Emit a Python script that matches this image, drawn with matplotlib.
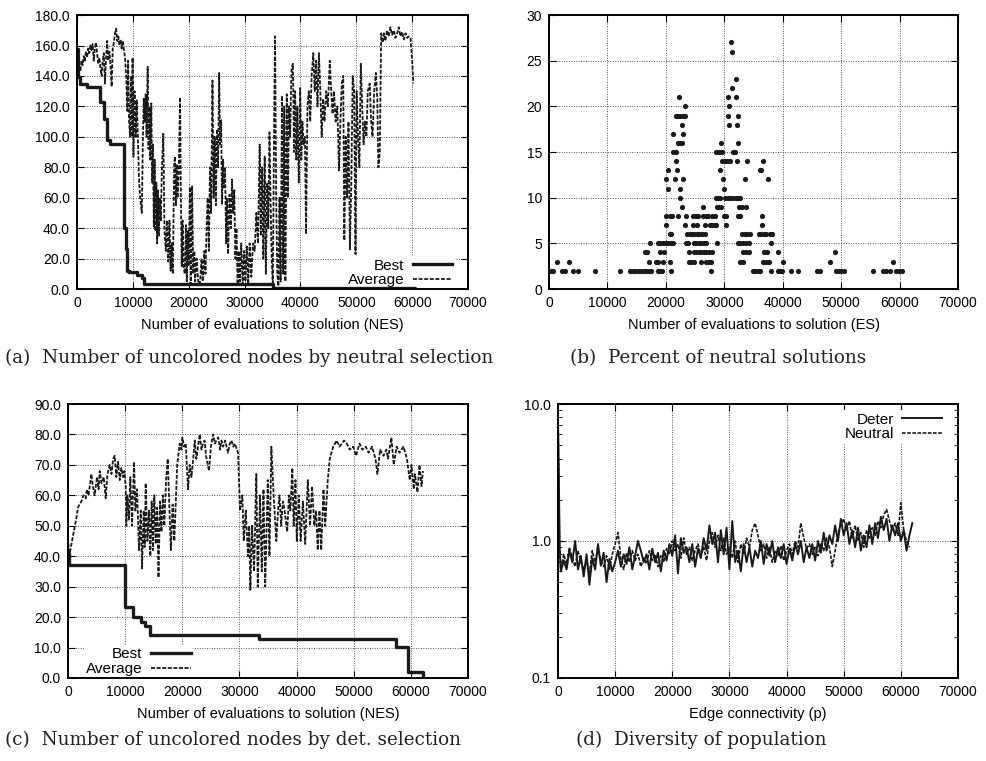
#!/usr/bin/env python3
import matplotlib
matplotlib.use("Agg")
import matplotlib.pyplot as plt
from matplotlib.ticker import FixedLocator, FormatStrFormatter, LogLocator, NullFormatter


# (a) uncolored nodes, neutral selection
best_a_x=[0,120,500,1700,4170,4770,5360,5960,8500,8700,8940,9240,10730,11600,12040,35170,60500]
best_a_y=[158,139,135,133,123,112,98,95,40,26,12,11,9,7,3,1,0]

avg_a_x=[0,150,300,450,600,800,1000,1200,1400,1600,1800,2000,2200,2400,2600,2800,3000,3200,3400,3600,
         3800,4000,4200,4400,4600,4800,5000,5200,5400,5600,5800,6000,6200,6400,6600,6800,7000,7200,7400,7600,
         7800,8000,8200,8400,8600,8800,9000,9150,9300,9500,9650,9800,9950,10100,10300,10500,10700,10900,11100,11300,
         11600,11800,11950,12100,12300,12450,12650,12800,12950,13100,13300,13450,13600,13750,13900,14050,14200,14350,14500,14650,
         14800,15000,15200,15450,15650,15900,16100,16350,16550,16750,16950,17150,17400,17550,17700,17850,18000,18200,18450,18600,
         18750,18900,19100,19300,19500,19650,19850,20000,20200,20400,20600,20800,21000,21150,21400,21700,22000,22300,22500,22800,
         23000,23200,23400,23600,23800,24000,24250,24450,24650,24850,25050,25250,25450,25600,25800,25950,26150,26300,26500,26700,
         26850,27050,27300,27550,27750,27950,28150,28350,28550,28750,28950,29150,29400,29650,29900,30150,30400,30650,30900,31200,
         31500,31800,32100,32400,32700,32900,33150,33350,33600,33800,34050,34250,34450,34650,34850,35050,35300,35450,35650,35850,
         36050,36250,36450,36700,36900,37100,37300,37550,37750,37950,38150,38400,38650,38850,39050,39250,39450,39700,39950,40150,
         40350,40550,40800,41000,41250,41500,41750,42000,42300,42550,42800,43050,43300,43550,43800,44050,44300,44600,44900,45250,
         45500,45750,46000,46300,46600,46900,47150,47400,47650,47850,48100,48350,48600,48850,49100,49350,49600,49850,50050,50300,
         50550,50800,51050,51300,51550,51800,52050,52400,52650,52900,53200,53500,53750,53950,54200,54450,54700,54950,55200,55500,
         55800,56100,56400,56700,57000,57300,57600,57900,58200,58500,58800,59100,59400,59700,60000,60200]
avg_a_y=[158,148,141,146,143,150,147,153,150,156,152,158,155,160,157,161,150,158,162,155,
         148,152,145,140,150,155,135,152,163,150,156,147,133,158,162,168,171,163,166,160,
         164,158,163,157,152,140,117,150,112,100,140,100,152,87,130,100,124,98,72,60,
         50,100,125,110,128,100,146,92,120,85,122,70,95,41,85,38,70,30,65,35,
         60,45,80,102,40,25,45,18,45,12,30,10,82,87,55,82,60,75,126,60,
         15,45,14,10,42,5,38,15,67,3,68,10,25,5,20,5,3,20,5,25,
         10,41,60,25,80,50,137,60,100,55,105,80,142,95,111,56,85,67,80,30,
         60,23,62,40,72,50,65,20,40,3,25,5,30,3,25,5,28,3,30,8,
         30,25,50,30,95,35,80,20,87,10,70,40,103,58,20,2,115,166,60,10,
         2,60,5,127,10,120,5,128,60,120,100,145,148,90,130,85,120,70,132,85,
         110,95,100,36,120,130,110,140,155,130,150,120,155,130,100,125,110,130,120,150,
         130,115,130,110,120,78,110,135,140,32,100,60,110,26,70,140,130,23,130,100,
         80,148,120,95,110,100,130,135,110,100,130,142,125,80,90,168,162,168,163,170,
         166,172,167,170,165,168,172,166,169,164,168,165,166,165,150,135]

# (b) percent of neutral solutions, one list of evaluation counts per percent level
neut_2=[285,684,2280,2680,4100,4960,7800,12090,13900,14350,14800,15250,15800,16200,16650,17100,17400,18650,19060,19400,
        20940,27780,34900,35300,35700,36060,37940,39200,39550,39940,41360,42620,45930,46320,49180,49600,50050,50490,55450,57160,
        57620,58300,59450,59900,60360]
neut_3=[1430,3370,17110,18260,18650,19510,20650,23960,24360,24760,25960,26930,27350,27780,32750,33200,36630,37100,37650,40050,
        48040,58870]
neut_4=[16370,16770,19060,19700,23960,24760,25200,25650,26050,26470,26900,27350,27900,33200,33750,34230,36800,37370,39190,49010]
neut_5=[17220,18650,19060,19510,19970,20360,20820,21220,23390,23840,24760,25200,25650,26050,26470,26900,28810,32350,32750,33200,
        33660,34230,38050]
neut_6=[20650,20940,23670,24080,24480,24890,25300,25750,26150,26640,33090,33490,33890,34340,35940,36350,36750,37200,37780,38160]
neut_7=[20080,23330,24650,25330,26640,27500,27950,28350,28640,30230,36490]
neut_8=[20080,20650,21100,22080,23500,24650,25100,25500,26350,26810,27250,27950,28470,29950,30350,32350,32750,36490]
neut_9=[22760,26350,28750,29100,29450,32520,33030,33660]
neut_10=[22360,28520,28900,29280,30060,30630,31030,31490,31940,32350,32750]
neut_11=[20360,22360,29950]
neut_12=[19970,21560,22930,29780,33490,37480]
neut_13=[20360,21900,29220,36080,36320]
neut_14=[21670,29620,30060,30520,30980,32230,33940,36620]
neut_15=[21220,21670,28650,29050,29670,31490,31780]
neut_16=[22080,22450,22810,29380,32350]
neut_17=[21220,22930]
neut_18=[22810,30850,32230]
neut_19=[21670,22080,22450,22930,23330,30580,32350]
neut_20=[23220,30840]
neut_21=[22250,30650,31960]
neut_22=[31320]
neut_23=[32060]
neut_26=[31380]
neut_27=[31200]

neut_levels=[2,3,4,5,6,7,8,9,10,11,12,13,14,15,16,17,18,19,20,21,22,23,26,27]
neut_groups=[neut_2,neut_3,neut_4,neut_5,neut_6,neut_7,neut_8,neut_9,neut_10,neut_11,neut_12,neut_13,
             neut_14,neut_15,neut_16,neut_17,neut_18,neut_19,neut_20,neut_21,neut_22,neut_23,neut_26,neut_27]

# (c) uncolored nodes, deterministic selection
best_c_x=[0,200,9950,11400,12800,13400,14300,33400,57400,59500,62200]
best_c_y=[41,37,23.3,20,18.3,17,14.2,12.8,10.3,2,0]

avg_c_x=[0,200,500,900,1200,1500,1750,2000,2330,2700,3090,3300,3600,4080,4350,4650,5075,5350,5550,5850,
         6250,6590,6900,7290,7600,7900,8170,8450,8750,9050,9330,9620,9850,10090,10200,10380,10650,10900,11200,11550,
         11780,12070,12420,12720,12950,13240,13420,13590,13880,14170,14400,14640,14870,15100,15350,15600,15830,16100,16350,16600,
         16850,17150,17450,17750,18000,18300,18600,18800,19100,19540,19850,20000,20300,20600,21000,21300,21600,21900,22170,22450,
         22750,23040,23350,23600,23900,24150,24670,25000,25370,25700,25950,26300,26600,26850,27150,27500,28000,28300,28600,28900,
         29200,29750,30100,30500,30750,31100,31500,31700,31900,32200,32550,32950,33200,33600,33900,34200,34500,34950,35250,35580,
         35980,36450,36750,37000,37300,37600,37900,38350,38650,38900,39250,39480,39800,40030,40400,40700,41100,41500,41960,42350,
         42700,43100,43400,43700,44000,44300,44700,45000,45450,45800,46400,47000,47500,48300,48800,49300,49900,50400,51000,51500,
         52100,52600,53200,53800,54140,54600,55200,55700,56000,56580,57000,57500,58000,58700,59300,59800,60100,60500,60700,61150,
         61500,61850,62100]
avg_c_y=[46,40,43,47,50,53,56,57,58,60,59,62,60,67,63,60,66,62,68,64,
         66,59,67,70,67,72,73,66,71,65,69,66,68,63,50,60,52,66,50,71,
         55,62,42,55,36,55,43,64,45,55,40,58,42,60,44,56,33,58,48,60,
         50,65,72,55,42,57,45,55,70,77,75,79,76,77,62,70,66,72,78,72,
         76,80,75,77,78,73,68,76,80,77,78,79,75,78,76,78,74,77,78,76,
         77,74,55,60,45,55,40,50,29,50,35,67,30,60,35,62,30,65,40,76,
         60,45,55,60,50,58,55,48,60,55,69,50,65,45,60,45,58,44,65,50,
         63,50,55,42,55,42,62,50,65,72,76,78,76,78,77,75,76,73,77,75,
         76,74,76,72,67,75,73,75,72,79,70,76,74,76,72,65,70,62,67,61,
         70,63,68]

# (d) diversity of population
div_x=[0,150,300,500,1000,1500,2000,2500,3000,3500,4000,4500,5000,5500,6000,6500,7000,7500,8000,8500,
       9000,9500,10000,10500,11000,11500,12000,12500,13000,13500,14000,14500,15000,15500,16000,16500,17000,17500,18000,18500,
       19000,19500,20000,20500,21000,21500,22000,22500,23000,23500,24000,24500,25000,25500,26000,26500,27000,27500,28000,28500,
       29000,29500,30000,30500,31000,31500,32000,32500,33000,33500,34000,34500,35000,35500,36000,36500,37000,37500,38000,38500,
       39000,39500,40000,40500,41000,41500,42000,42500,43000,43500,44000,44500,45000,45500,46000,46500,47000,47500,48000,48500,
       49000,49500,50000,50500,51000,51500,52000,52500,53000,53500,54000,54500,55000,55500,56000,56500,57000,57500,58000,58500,
       59000,59500,60000,60500,61000,61500,62000]
deter_y=[8.0,3.0,0.9,0.6,0.72,0.62,0.85,0.7,1.0,0.62,0.78,0.55,0.8,0.48,0.75,0.62,0.95,0.66,0.82,0.5,
         0.74,0.6,0.7,0.85,0.65,0.8,0.68,0.9,0.62,0.78,1.0,0.85,0.7,0.8,0.62,0.88,0.7,0.82,0.6,0.85,
         0.72,0.95,0.78,1.1,0.58,1.05,0.82,0.9,0.7,0.95,0.65,0.88,0.75,1.05,0.85,1.3,0.95,1.15,0.7,1.2,
         0.8,1.25,0.62,1.4,0.7,0.85,0.6,0.95,0.7,0.9,0.65,0.85,0.75,1.0,0.68,0.95,0.78,1.0,0.7,0.9,
         0.75,0.95,0.68,0.88,0.72,0.95,0.8,1.0,0.7,0.9,0.75,0.95,0.72,1.0,0.82,1.15,0.85,1.1,0.95,1.3,
         1.0,1.45,1.1,1.35,0.95,1.2,0.9,1.25,0.85,1.1,0.9,1.3,0.95,1.35,1.05,1.5,1.2,1.45,1.0,1.3,
         1.1,1.35,1.0,1.2,0.85,1.1,1.35]
neutral_y=[7.5,2.5,0.8,0.62,0.8,0.68,0.9,0.75,0.65,0.85,0.7,0.62,0.72,0.58,0.85,0.7,0.88,0.72,0.65,0.78,
           0.62,0.8,0.95,1.15,0.75,0.62,0.82,0.7,0.85,0.72,0.8,0.65,0.75,0.68,0.85,0.72,0.8,0.65,0.78,0.7,
           0.88,0.8,1.0,0.85,0.95,0.75,1.05,0.8,0.9,0.72,0.85,0.95,0.78,0.9,0.72,1.0,1.15,0.9,1.1,0.85,
           1.05,0.8,0.9,0.75,1.0,0.7,0.95,0.8,1.05,0.9,1.2,1.35,1.1,0.85,0.95,0.75,0.9,0.7,0.85,0.78,
           0.92,0.72,0.85,0.95,0.8,1.0,0.9,1.35,1.05,0.88,0.95,0.8,0.9,0.78,0.95,0.85,1.05,0.9,0.65,0.85,
           1.15,1.3,1.45,1.2,1.4,1.05,1.3,1.0,1.15,0.9,1.2,1.05,1.25,1.1,1.4,1.25,1.55,1.7,1.4,1.2,
           1.35,1.1,1.9,1.2,1.0,0.9]

x_ticks=[0,10000,20000,30000,40000,50000,60000,70000]

SANS="Liberation Sans"
SERIF="DejaVu Serif"
INK="#1a1a1a"
GRID=dict(color="#555555",linestyle=(0,(1,1.5)),linewidth=0.7)
DASH=(0,(2.2,0.9))


def style_axes(ax,xlabel):
    ax.set_xlim(0,70000)
    ax.xaxis.set_major_locator(FixedLocator(x_ticks))
    ax.tick_params(which="both",direction="in",top=True,right=True,labelsize=10,pad=5)
    ax.tick_params(which="major",length=5,width=0.8)
    ax.tick_params(which="minor",length=3,width=0.6)
    for lab in ax.get_xticklabels()+ax.get_yticklabels():
        lab.set_fontfamily(SANS)
    for sp in ax.spines.values():
        sp.set_linewidth(1.4)
        sp.set_zorder(3)
    ax.grid(True,which="major",**GRID)
    ax.set_axisbelow(True)
    ax.set_xlabel(xlabel,fontsize=10.5,family=SANS,labelpad=6)


def add_legend(ax,loc,anchor):
    leg=ax.legend(
        loc=loc,
        bbox_to_anchor=anchor,
        markerfirst=False,
        frameon=True,
        framealpha=1,
        edgecolor="none",
        fancybox=False,
        handlelength=2.6,
        handletextpad=0.55,
        labelspacing=0.05,
        borderpad=0.15,
        prop={"family":SANS,"size":11},
    )
    leg.get_frame().set_linewidth(0)
    # white key box hides the grid but stays under the curves
    leg.set_zorder(1.8)
    return leg


def main():
    fig=plt.figure(figsize=(9.86,7.61),dpi=100,facecolor="white")

    ax_a=fig.add_axes([0.0781,0.6202,0.3966,0.3600])
    ax_b=fig.add_axes([0.5568,0.6202,0.4148,0.3600])
    ax_c=fig.add_axes([0.0690,0.1091,0.4057,0.3600])
    ax_d=fig.add_axes([0.5659,0.1091,0.4057,0.3600])

    # (a)
    ax_a.plot(best_a_x,best_a_y,drawstyle="steps-post",color=INK,linewidth=2.4,label="Best")
    ax_a.plot(avg_a_x,avg_a_y,color=INK,linewidth=1.3,linestyle=DASH,label="Average")
    ax_a.set_ylim(0,180)
    ax_a.yaxis.set_major_locator(FixedLocator(range(0,181,20)))
    ax_a.yaxis.set_major_formatter(FormatStrFormatter("%.1f"))
    style_axes(ax_a,"Number of evaluations to solution (NES)")
    add_legend(ax_a,"lower right",(0.985,-0.03))

    # (b)
    bx=[]
    by=[]
    for level,xs in zip(neut_levels,neut_groups):
        bx.extend(xs)
        by.extend([level]*len(xs))
    ax_b.scatter(bx,by,s=14,color=INK,linewidths=0,zorder=3)
    ax_b.set_ylim(0,30)
    ax_b.yaxis.set_major_locator(FixedLocator(range(0,31,5)))
    style_axes(ax_b,"Number of evaluations to solution (ES)")

    # (c)
    ax_c.plot(best_c_x,best_c_y,drawstyle="steps-post",color=INK,linewidth=2.4,label="Best")
    ax_c.plot(avg_c_x,avg_c_y,color=INK,linewidth=1.3,linestyle=DASH,label="Average")
    ax_c.set_ylim(0,90)
    ax_c.yaxis.set_major_locator(FixedLocator(range(0,91,10)))
    ax_c.yaxis.set_major_formatter(FormatStrFormatter("%.1f"))
    style_axes(ax_c,"Number of evaluations to solution (NES)")
    add_legend(ax_c,"lower left",(0.02,-0.03))

    # (d)
    ax_d.plot(div_x,deter_y,color=INK,linewidth=1.4,label="Deter")
    ax_d.plot(div_x[:len(neutral_y)],neutral_y,color=INK,linewidth=1.2,linestyle=DASH,label="Neutral")
    ax_d.set_yscale("log")
    ax_d.set_ylim(0.1,10)
    ax_d.yaxis.set_major_locator(FixedLocator([0.1,1.0,10.0]))
    ax_d.yaxis.set_major_formatter(FormatStrFormatter("%.1f"))
    ax_d.yaxis.set_minor_locator(LogLocator(base=10,subs=range(2,10)))
    ax_d.yaxis.set_minor_formatter(NullFormatter())
    style_axes(ax_d,"Edge connectivity (p)")
    add_legend(ax_d,"upper right",(0.985,1.005))

    captions=[
        (0.005,0.530,"(a)  Number of uncolored nodes by neutral selection"),
        (0.578,0.530,"(b)  Percent of neutral solutions"),
        (0.005,0.028,"(c)  Number of uncolored nodes by det. selection"),
        (0.584,0.028,"(d)  Diversity of population"),
    ]
    for x,y,txt in captions:
        fig.text(x,y,txt,ha="left",va="center",fontsize=13.2,family=SERIF,color="#222222")

    fig.savefig("out.png",dpi=100,facecolor="white")
    plt.close(fig)


if __name__=="__main__":
    main()
